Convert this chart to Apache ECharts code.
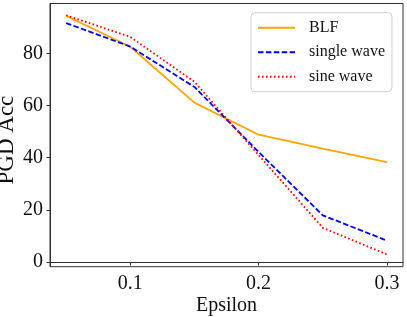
<!DOCTYPE html>
<html>
<head>
<meta charset="utf-8">
<script src="https://cdn.jsdelivr.net/npm/echarts@6/dist/echarts.min.js"></script>
<style>
html,body{margin:0;padding:0;background:#fff;}
#c{width:407px;height:317px;}
</style>
</head>
<body>
<div id="c"></div>
<script>
var epsilon = [0.05, 0.1, 0.15, 0.2, 0.25, 0.3];
var blf = [94.4, 82.5, 61.1, 48.8, 43.5, 38.3];
var singleWave = [91.6, 82.6, 67.1, 42.2, 17.9, 8.2];
var sineWave = [94.6, 86.3, 69.1, 41.0, 13.1, 2.9];
var xTicks = [0.1, 0.2, 0.3];
var yTicks = [0, 20, 40, 60, 80];

function pairs(ys){ return epsilon.map(function(x,i){ return [x, ys[i]]; }); }
var FONT = '"Liberation Serif", "DejaVu Serif", serif';
var chart = echarts.init(document.getElementById('c'), null, {renderer:'canvas'});
chart.setOption({
  animation:false,
  backgroundColor:'#fff',
  grid:{left:50, right:4, top:3.5, bottom:50.3, containLabel:false, outerBoundsMode:'none', show:true, borderColor:'#333', borderWidth:1, backgroundColor:'transparent'},
  xAxis:{
    type:'value', min:0.0375, max:0.3125,
    name:'Epsilon', nameLocation:'middle', nameGap:29.5, nameMoveOverlap:false,
    nameTextStyle:{fontFamily:FONT, fontSize:20, color:'#111'},
    axisLine:{show:true, lineStyle:{color:'#333', width:1}},
    axisTick:{show:true, inside:false, length:3.5, customValues:xTicks, lineStyle:{color:'#333'}},
    axisLabel:{customValues:xTicks, margin:7, fontFamily:FONT, fontSize:20, color:'#111', formatter:function(v){return String(v);}},
    splitLine:{show:false}
  },
  yAxis:{
    type:'value', min:-1.8, max:99.1,
    name:'PGD Acc', nameLocation:'middle', nameGap:32, nameRotate:90, nameMoveOverlap:false,
    nameTextStyle:{fontFamily:FONT, fontSize:23, color:'#111', padding:[0,10,0,0]},
    axisLine:{show:true, lineStyle:{color:'#333', width:1}},
    axisTick:{show:true, inside:false, length:3.5, customValues:yTicks, lineStyle:{color:'#333'}},
    axisLabel:{customValues:yTicks, margin:7, fontFamily:FONT, fontSize:20, color:'#111'},
    splitLine:{show:false}
  },
  legend:{
    orient:'vertical', left:251, top:12.7,
    backgroundColor:'#fff', borderColor:'#d0d0d0', borderWidth:1, borderRadius:4,
    padding:[7,7,7,6], itemWidth:37, itemHeight:16, itemGap:8.5,
    itemStyle:{opacity:0},
    textStyle:{fontFamily:FONT, fontSize:16, lineHeight:16, color:'#111', padding:[0,0,0,9]},
    data:['BLF','single wave','sine wave']
  },
  series:[
    {name:'BLF', type:'line', data:pairs(blf), symbol:'none', lineStyle:{color:'#FFA500', width:1.8}, itemStyle:{color:'#FFA500'}},
    {name:'single wave', type:'line', data:pairs(singleWave), symbol:'none', lineStyle:{color:'#0000FF', width:1.8, type:[5.5,2.4]}, itemStyle:{color:'#0000FF'}},
    {name:'sine wave', type:'line', data:pairs(sineWave), symbol:'none', lineStyle:{color:'#FF0000', width:1.8, type:[1.6,2.4]}, itemStyle:{color:'#FF0000'}}
  ]
});
</script>
</body>
</html>
